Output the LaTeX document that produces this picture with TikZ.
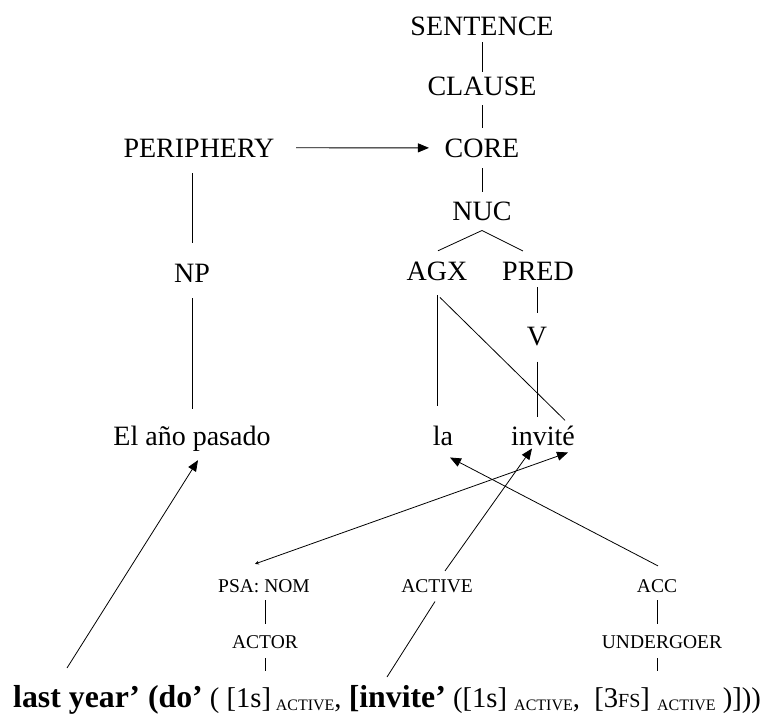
\documentclass[tikz,border=0pt]{standalone}
\usepackage{fontspec}
\setmainfont{Liberation Serif}
\usetikzlibrary{arrows.meta}
% lowered small-size role subscript
\newcommand\actsub[1]{\raisebox{-3pt}{\fontsize{16}{16}\selectfont #1}}
\begin{document}
\begin{tikzpicture}[x=1pt,y=-1pt,
  lab/.style={inner sep=0pt, anchor=base, font=\fontsize{28}{30}\selectfont},
  sm/.style={inner sep=0pt, anchor=base, font=\fontsize{19.5}{21}\selectfont},
  branch/.style={line width=0.8pt},
  pointer/.style={line width=0.8pt, -{Triangle[length=11pt,width=9pt]}},
]
\path[use as bounding box] (0,0) rectangle (768,713);

% layered structure
\node[lab] (sent)   at (482,35)  {SENTENCE};
\node[lab] (clause) at (482,95)  {CLAUSE};
\node[lab] (core)   at (482,157) {CORE};
\node[lab] (per)    at (199,157) {PERIPHERY};
\node[lab] (nuc)    at (482,220) {NUC};
\node[lab] (agx)    at (437,280) {AGX};
\node[lab] (pred)   at (538,280) {PRED};
\node[lab] (np)     at (192,282) {NP};
\node[lab] (v)      at (537,345) {V};
\node[lab] (la)     at (443,445) {la};
\node[lab] (inv)    at (543,445) {invité};
\node[lab] (ano)    at (192,445) {El año pasado};

% linking labels
\node[sm] (psa)   at (264,592) {PSA: NOM};
\node[sm] (act)   at (437,592) {ACTIVE};
\node[sm] (acc)   at (657,592) {ACC};
\node[sm] (actor) at (265,648) {ACTOR};
\node[sm] (und)   at (662,648) {UNDERGOER};

% logical structure
\node[inner sep=0pt, anchor=base west, font=\fontsize{28.6}{30}\selectfont] (form) at (13,707)
  {{\fontsize{31.8}{32}\selectfont\bfseries last year’ (do’} ( [1s]\,\actsub{ACTIVE}, {\fontsize{31.8}{32}\selectfont\bfseries [invite’} ([1s] \actsub{ACTIVE},\ \ [3{\fontsize{20}{20}\selectfont FS}] \actsub{ACTIVE} )]))};
\coordinate (lyr)  at (67,668);
\coordinate (invb) at (387,677);

% tree branches
\draw[branch, shorten <=7pt, shorten >=4.5pt] (sent.south) -- (clause.north);
\draw[branch, shorten <=10pt, shorten >=10.5pt] (clause.south) -- (core.north);
\draw[branch, shorten <=11pt, shorten >=9.5pt] (core.south) -- (nuc.north);
\draw[branch] ([xshift=1pt,yshift=10.5pt]agx.north) -- ([yshift=-10pt]nuc.south) -- ([xshift=-15pt,yshift=10.5pt]pred.north);
\draw[branch, shorten <=7pt, shorten >=13.5pt] (pred.south -| v.north) -- (v.north);
\draw[branch, shorten <=16pt, shorten >=8pt] (v.south) -- (v.south |- inv.north);
\draw[branch, shorten <=15pt, shorten >=19pt] (agx.south) -- (agx.south |- la.north);
\draw[branch] ([xshift=3pt,yshift=-17pt]agx.south) -- ([xshift=22pt,yshift=5pt]inv.north);
\draw[branch, shorten <=16pt, shorten >=20.5pt] (per.south -| np.north) -- (np.north);
\draw[branch, shorten <=16pt, shorten >=16pt] (np.south) -- (np.south |- ano.north);
\draw[pointer, shorten <=21.5pt, shorten >=15.5pt] (per.east) -- (core.west);

\draw[branch, shorten <=8pt, shorten >=11pt] (psa.south -| actor.north) -- (actor.north);
\draw[branch, shorten <=10pt, shorten >=13.5pt] (actor.south) -- (actor.south |- form.north);
\draw[branch, shorten <=8pt, shorten >=11pt] (acc.south) -- (acc.south |- und.north);
\draw[branch, shorten <=10pt, shorten >=13.5pt] (acc.south |- und.south) -- (acc.south |- form.north);

% linking arrows
\draw[pointer] (lyr) -- ([xshift=6pt,yshift=-9pt]ano.south);
\draw[line width=0.8pt, {Stealth[length=4pt,width=4pt]}-{Triangle[length=11pt,width=9pt]}]
  ([xshift=-9pt,yshift=15pt]psa.north) -- ([xshift=25pt,yshift=-7pt]inv.south);
\draw[pointer] ([xshift=8pt,yshift=8pt]act.north) -- ([xshift=-11pt,yshift=-3pt]inv.south);
\draw[branch] (invb) -- ([xshift=-2pt,yshift=-9pt]act.south);
\draw[pointer] ([xshift=1pt,yshift=13pt]acc.north) -- ([xshift=7pt,yshift=-12pt]la.south);
\end{tikzpicture}
\end{document}
